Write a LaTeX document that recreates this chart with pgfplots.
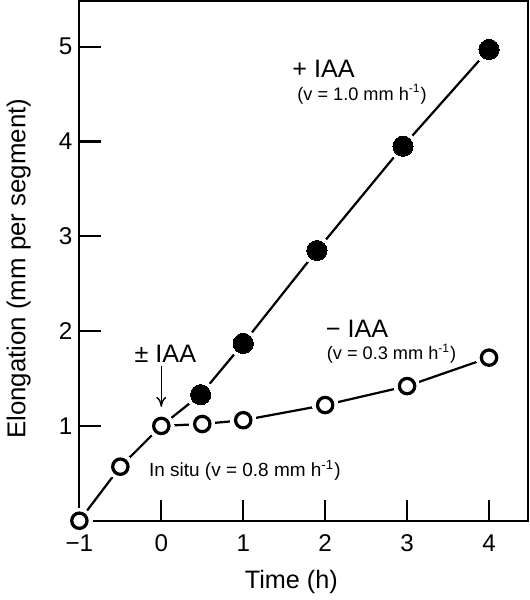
\documentclass[border=0pt]{standalone}
\usepackage{fontspec}
\setmainfont{Liberation Sans}
\usepackage{pgfplots}
\pgfplotsset{compat=1.18}
\usetikzlibrary{arrows.meta}
\begin{document}
\begin{tikzpicture}
\begin{axis}[
  scale only axis,
  width=222.5pt, height=257.5pt,
  xmin=-1, xmax=4.48, ymin=0, ymax=5.48,
  axis line style={line width=1.1pt},
  xtick={-1,0,1,2,3,4},
  xticklabels={−1,0,1,2,3,4},
  ytick={1,2,3,4,5},
  yticklabels={1,2,3,4,5},
  tick align=inside,
  xtick pos=bottom, ytick pos=left,
  major tick length=10.5pt,
  tick style={line width=1.1pt, black},
  ticklabel style={font=\fontsize{12}{14}\selectfont},
  xticklabel style={yshift=-3.5pt},
  xlabel={Time (h)},
  ylabel={Elongation (mm per segment)},
  xlabel style={font=\fontsize{12.5}{14}\selectfont, at={(axis description cs:0.472,-0.117)}, anchor=center},
  ylabel style={font=\fontsize{12.8}{14}\selectfont, at={(axis description cs:-0.135,0.485)}, anchor=center, rotate=0},
  clip=false,
]
% lines
\addplot[black, line width=1.1pt, no markers] coordinates {
(-1,0) (-0.5,0.57) (0,1.0) (0.5,1.02) (1,1.06) (2,1.22) (3,1.42) (4,1.72)};
\addplot[black, line width=1.1pt, no markers] coordinates {
(0,1.0) (0.48,1.33) (1,1.87) (1.9,2.85) (2.95,3.95) (4,4.97)};
% white gaps
\addplot[white, only marks, mark=*, mark size=6.3pt, mark options={fill=white, draw=white, line width=0pt}] coordinates {
(-1,0) (-0.5,0.57) (0,1.0) (0.5,1.02) (1,1.06) (2,1.22) (3,1.42) (4,1.72)};
\addplot[white, only marks, mark=*, mark size=7pt, mark options={fill=white, draw=white, line width=0pt}] coordinates {
(0.48,1.33) (1,1.87) (1.9,2.85) (2.95,3.95) (4,4.97)};
% markers
\addplot[black, only marks, mark=*, mark size=3.8pt, mark options={fill=white, draw=black, line width=1.6pt}] coordinates {
(-1,0) (-0.5,0.57) (0,1.0) (0.5,1.02) (1,1.06) (2,1.22) (3,1.42) (4,1.72)};
\addplot[black, only marks, mark=*, mark size=5pt, mark options={fill=black, draw=black, line width=0pt}] coordinates {
(0.48,1.33) (1,1.87) (1.9,2.85) (2.95,3.95) (4,4.97)};
% annotations
\node[font=\fontsize{12.5}{14}\selectfont] at (axis cs:1.98,4.77) {+ IAA};
\node[font=\fontsize{9}{11}\selectfont] at (axis cs:2.45,4.5) {(v = 1.0 mm h\textsuperscript{-1})};
\node[font=\fontsize{12.5}{14}\selectfont] at (axis cs:2.39,2.02) {− IAA};
\node[font=\fontsize{9}{11}\selectfont] at (axis cs:2.81,1.76) {(v = 0.3 mm h\textsuperscript{-1})};
\node[font=\fontsize{12.5}{14}\selectfont] at (axis cs:0.05,1.76) {± IAA};
\node[font=\fontsize{9.4}{11}\selectfont] at (axis cs:1.02,0.53) {In situ (v = 0.8 mm h\textsuperscript{-1})};
\draw[line width=0.7pt, -{To[length=5pt,width=5pt]}] (axis cs:0,1.63) -- (axis cs:0,1.20);
\end{axis}
\end{tikzpicture}
\end{document}
